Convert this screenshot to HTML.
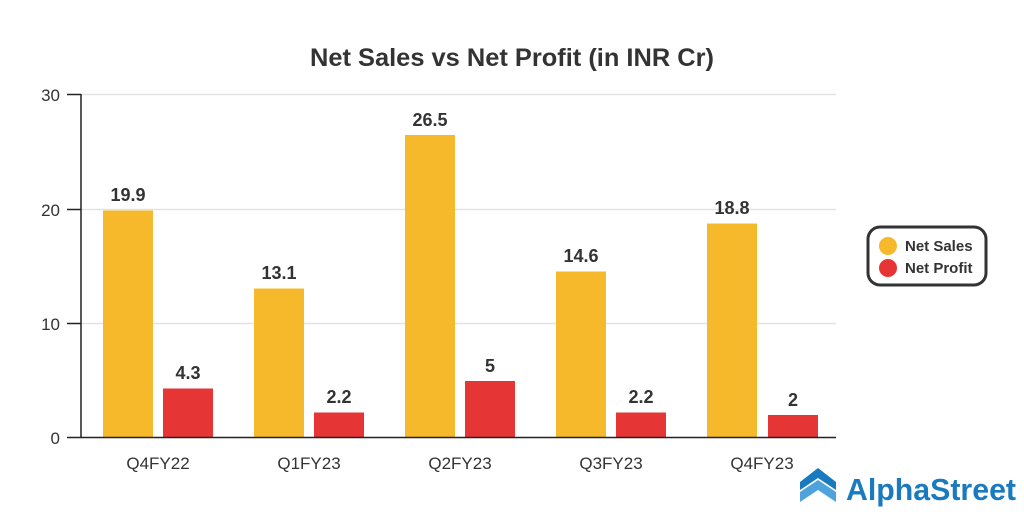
<!DOCTYPE html>
<html><head><style>
body{margin:0;background:#fff;width:1024px;height:512px;overflow:hidden;font-family:"Liberation Sans",sans-serif;}
</style></head><body>
<svg width="1024" height="512" xmlns="http://www.w3.org/2000/svg" font-family="Liberation Sans, sans-serif">
<text x="512" y="66" text-anchor="middle" font-size="25" font-weight="bold" fill="#333" textLength="404" lengthAdjust="spacingAndGlyphs">Net Sales vs Net Profit (in INR Cr)</text>
<g stroke="#e3e3e3" stroke-width="1.5">
<line x1="81" y1="94.5" x2="836" y2="94.5"/>
<line x1="81" y1="209.5" x2="836" y2="209.5"/>
<line x1="81" y1="323.5" x2="836" y2="323.5"/>
</g>
<g fill="#f6b92b">
<rect x="103" y="210.5" width="50" height="227.5"/>
<rect x="254" y="288.5" width="50" height="149.5"/>
<rect x="405" y="135" width="50" height="303"/>
<rect x="556" y="271.5" width="50" height="166.5"/>
<rect x="707" y="223.5" width="50" height="214.5"/>
</g>
<g fill="#e63535">
<rect x="163" y="388.5" width="50" height="49.5"/>
<rect x="314" y="412.5" width="50" height="25.5"/>
<rect x="465" y="381" width="50" height="57"/>
<rect x="616" y="412.5" width="50" height="25.5"/>
<rect x="768" y="415" width="50" height="23"/>
</g>
<g stroke="#222" stroke-width="1.5">
<line x1="81" y1="94" x2="81" y2="438"/>
<line x1="81" y1="437.5" x2="836" y2="437.5"/>
<line x1="67" y1="94.5" x2="81" y2="94.5"/>
<line x1="67" y1="209.5" x2="81" y2="209.5"/>
<line x1="67" y1="323.5" x2="81" y2="323.5"/>
<line x1="67" y1="437.5" x2="81" y2="437.5"/>
</g>
<g font-size="17" fill="#333" text-anchor="end">
<text x="60" y="101">30</text><text x="60" y="216">20</text><text x="60" y="330">10</text><text x="60" y="444">0</text>
</g>
<g font-size="17" fill="#333" text-anchor="middle">
<text x="158" y="469">Q4FY22</text><text x="309" y="469">Q1FY23</text><text x="460" y="469">Q2FY23</text><text x="611" y="469">Q3FY23</text><text x="762" y="469">Q4FY23</text>
</g>
<g font-size="18" font-weight="bold" fill="#333" text-anchor="middle">
<text x="128" y="201">19.9</text><text x="279" y="279">13.1</text><text x="430" y="126">26.5</text><text x="581" y="262">14.6</text><text x="732" y="214">18.8</text>
<text x="188" y="379">4.3</text><text x="339" y="403">2.2</text><text x="490" y="372">5</text><text x="641" y="403">2.2</text><text x="793" y="406">2</text>
</g>
<rect x="868" y="227" width="118" height="58" rx="12" fill="#fff" stroke="#333" stroke-width="3"/>
<circle cx="888" cy="246" r="9" fill="#f6b92b"/>
<circle cx="888" cy="268" r="9" fill="#e63535"/>
<g font-size="15" font-weight="bold" fill="#333">
<text x="905" y="251">Net Sales</text><text x="905" y="273">Net Profit</text>
</g>
<g transform="translate(800,468)">
<path d="M0 14 L18 0 L36 14 L36 22 L18 10 L0 22 Z" fill="#1a7abf"/>
<path d="M0 24 L18 12 L36 24 L36 34 L18 22 L0 34 Z" fill="#4fa3dc"/>
</g>
<text x="846" y="500" font-size="31" font-weight="bold" fill="#1a7abf" textLength="170" lengthAdjust="spacingAndGlyphs">AlphaStreet</text>
</svg>
</body></html>
